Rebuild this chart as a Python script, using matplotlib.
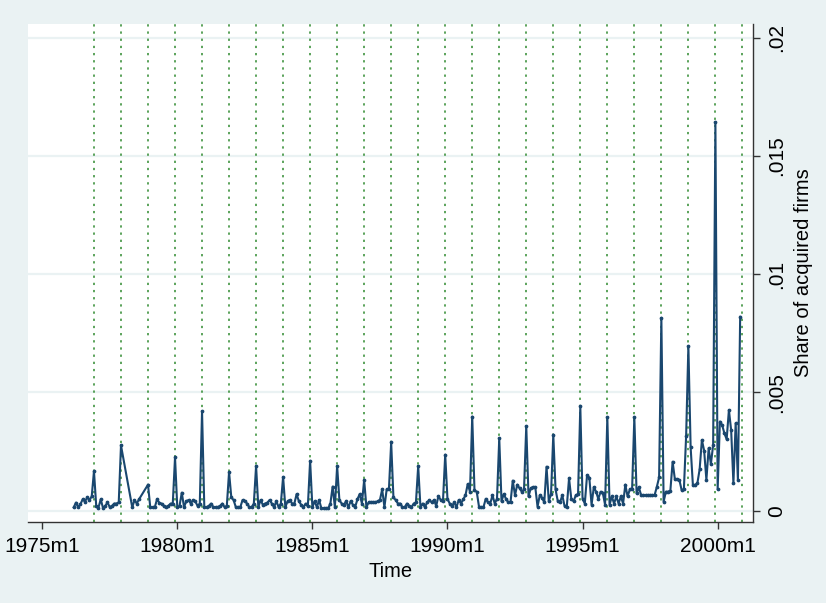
import matplotlib
matplotlib.use("Agg")
import matplotlib.pyplot as plt

plt.rcParams['font.family'] = ['Liberation Sans', 'DejaVu Sans']

# monthly share of acquired firms, in units of 1/10000 (Jan..Dec, None = no observation)
y1976 = [None, None, 1.4, 3.4, 1.4, 2.8, 4.8, 3.8, 5.6, 4.5, 6.0, 16.7]
y1977 = [2.0, 1.3, 4.8, 1.2, 2.0, 3.5, 1.5, 2.0, 3.0, 3.0, 3.5, 27.6]
y1978 = [None, None, None, None, 1.4, 4.5, 3.0, 4.8, None, None, None, 11.0]
y1979 = [1.4, 1.4, 1.4, 4.8, 3.4, 3.0, 2.0, 1.5, 2.0, 3.0, 3.0, 22.5]
y1980 = [1.5, 2.0, 7.6, 1.5, 4.0, 4.5, 3.0, 4.5, 4.0, 2.0, 3.0, 42.0]
y1981 = [1.5, 1.5, 2.0, 3.0, 1.5, 1.5, 1.5, 2.0, 3.0, 1.5, 2.0, 16.3]
y1982 = [5.6, 4.5, 1.5, 1.5, 1.5, 4.5, 4.0, 3.0, 1.5, 1.5, 3.0, 18.9]
y1983 = [1.5, 4.5, 2.5, 3.0, 3.4, 4.5, 3.0, 1.5, 4.0, 1.5, 3.0, 14.3]
y1984 = [1.5, 4.0, 4.5, 3.0, 3.0, 7.0, 4.0, 2.5, 1.5, 3.0, 2.0, 21.1]
y1985 = [1.5, 4.0, 1.5, 4.5, 1.0, 1.0, 1.0, 1.0, 3.0, 10.2, 1.5, 18.9]
y1986 = [4.5, 3.0, 2.5, 4.0, 1.5, 4.0, 2.5, 1.5, 4.8, 7.0, 3.0, 13.0]
y1987 = [1.5, 3.5, 3.5, 3.5, 3.5, 4.0, 4.5, 9.0, 1.5, 9.0, 9.0, 28.9]
y1988 = [5.6, 4.5, 3.0, 3.0, 1.5, 1.5, 3.0, 2.0, 1.5, 3.0, 3.5, 18.9]
y1989 = [1.5, 3.0, 1.5, 3.5, 4.5, 3.5, 4.5, 2.0, 6.2, 4.5, 4.0, 23.7]
y1990 = [5.0, 3.0, 2.0, 3.5, 1.5, 4.5, 3.0, 4.8, 6.5, 11.3, 8.0, 39.8]
y1991 = [8.7, 8.0, 1.7, 1.5, 1.5, 5.0, 3.5, 3.0, 6.5, 3.0, 5.0, 30.6]
y1992 = [4.0, 7.0, 5.0, 3.5, 3.5, 12.7, 6.5, 11.0, 9.5, 8.0, 9.0, 35.8]
y1993 = [6.0, 9.5, 10.0, 10.0, 1.7, 6.5, 5.5, 3.5, 18.6, 4.0, 7.0, 32.2]
y1994 = [9.0, 4.0, 3.5, 6.5, 2.0, 1.7, 13.7, 5.0, 4.0, 6.5, 7.0, 44.2]
y1995 = [5.0, 3.0, 15.0, 14.0, 2.5, 10.0, 8.0, 5.0, 8.0, 7.5, 2.5, 39.5]
y1996 = [2.5, 6.0, 3.0, 6.0, 3.0, 6.0, 3.0, 11.0, 6.0, 9.0, 9.0, 39.5]
y1997 = [7.3, 9.9, 6.6, 6.6, 6.6, 6.6, 6.6, 6.6, 6.6, 10.1, 14.1, 81.6]
y1998 = [3.8, 8.0, 8.0, 8.5, 20.7, 13.3, 13.3, 13.0, 8.7, 9.0, 31.6, 69.6]
y1999 = [26.8, 10.9, 10.9, 11.6, 17.5, 29.9, 25.4, 13.0, 26.4, 19.7, 27.8, 164.4]
y2000 = [9.0, 37.7, 36.2, 32.7, 30.2, 42.6, 34.0, 11.6, 37.0, 13.0, 82.0, None]

rows = [y1976, y1977, y1978, y1979, y1980, y1981, y1982, y1983, y1984,
        y1985, y1986, y1987, y1988, y1989, y1990, y1991, y1992, y1993,
        y1994, y1995, y1996, y1997, y1998, y1999, y2000]
first_year = 1976

tick_years = [1975, 1980, 1985, 1990, 1995, 2000]
line_years = list(range(1976, 2001))  # December marker lines
y_ticks = [0, .005, .01, .015, .02]
y_labels = ['0', '.005', '.01', '.015', '.02']


def stata_month(year, month):
    # months since 1960m1, like Stata's %tm
    return (year - 1960) * 12 + month - 1


t = []
share = []
for i, row in enumerate(rows):
    for m, v in enumerate(row):
        if v is None:
            continue
        t.append(stata_month(first_year + i, m + 1))
        share.append(v / 10000)

bg = '#EAF2F3'
navy = '#1A476F'

fig = plt.figure(figsize=(8.26, 6.03), dpi=100, facecolor=bg)
ax = fig.add_axes([28 / 826, 1 - 522 / 603, 725 / 826, 498 / 603])
ax.set_facecolor('white')

for yr in line_years:
    ax.axvline(stata_month(yr, 12), color='#2F8A2F', lw=1.1,
               linestyle=(0, (1.5, 3.2)), zorder=1)

ax.plot(t, share, color=navy, lw=1.5, marker='o', markersize=1.7, zorder=3)

ax.set_xlim(173.7, 495.7)
ax.set_ylim(-0.00048, 0.02059)

ax.set_xticks([stata_month(y, 1) for y in tick_years])
ax.set_xticklabels(['%dm1' % y for y in tick_years])
ax.set_yticks(y_ticks)
ax.set_yticklabels(y_labels, rotation=90, va='center')

ax.yaxis.tick_right()
ax.yaxis.set_label_position('right')
ax.grid(axis='y', color=bg, lw=1.6, zorder=0)
ax.set_axisbelow(True)

for side in ['left', 'top']:
    ax.spines[side].set_visible(False)
for side in ['right', 'bottom']:
    ax.spines[side].set_color('#333333')
    ax.spines[side].set_linewidth(1.0)

ax.tick_params(axis='both', length=5, width=1.0, color='#333333',
               labelsize=15, labelcolor='black')
ax.tick_params(axis='x', pad=6)
ax.tick_params(axis='y', pad=5)

ax.set_xlabel('Time', fontsize=14.5, labelpad=4)
ax.set_ylabel('Share of acquired firms', fontsize=14.5, labelpad=6)

fig.savefig('out.png', dpi=100, facecolor=bg)
